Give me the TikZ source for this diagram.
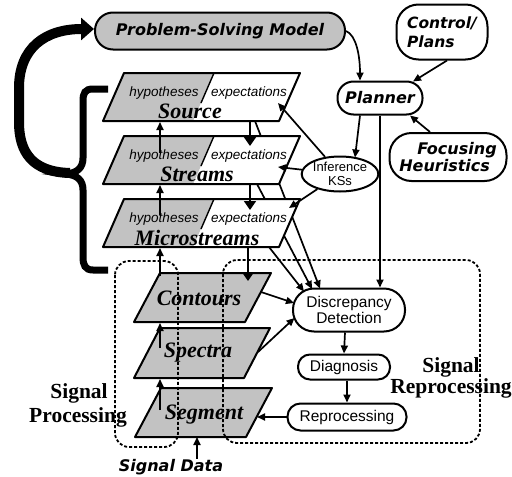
\documentclass[tikz,border=0pt]{standalone}
\usepackage{fontspec}
\setmainfont{Liberation Serif}
\newfontfamily\dvs{DejaVu Sans}[BoldItalicFont={DejaVu Sans Bold Oblique}]
\newfontfamily\lsans{Liberation Sans}
\usetikzlibrary{shapes.geometric,arrows.meta}
\colorlet{stip}{black!24}
\tikzset{
  shp/.style={draw, line width=2pt, fill=white, inner sep=0pt},
  lab/.style={font=\fontsize{16}{17}\selectfont\dvs\bfseries\itshape},
  sans/.style={font=\fontsize{15.5}{16}\selectfont\lsans},
  lvl/.style={font=\fontsize{22}{22}\selectfont\bfseries\itshape, inner sep=0pt, anchor=base},
  sub/.style={font=\fontsize{13.5}{14}\selectfont\lsans\itshape, inner sep=0pt, anchor=base},
  reg/.style={font=\fontsize{21.5}{22}\selectfont\bfseries, inner sep=0pt, anchor=base},
  conn/.style={line width=1.7pt, -{Triangle[length=8pt,width=7pt]}},
  bigdown/.style={line width=1.7pt, -{Triangle[length=9pt,width=12pt]}},
  plane/.style={line width=2pt, line join=round},
  region/.style={line width=1.8pt, dash pattern=on 3pt off 2pt, rounded corners=14pt},
}
\begin{document}
\begin{tikzpicture}[x=1pt,y=-1pt]
\useasboundingbox (0,0) rectangle (512,477);

% ---------- control nodes ----------
\node[shp, fill=stip, lab, minimum width=250pt, minimum height=37pt, rounded corners=18pt] (psm) at (220,31) {Problem-Solving Model};
\node[shp, lab, align=left, font=\fontsize{15.5}{19}\selectfont\dvs\bfseries\itshape, minimum width=91pt, minimum height=55pt, rounded corners=22pt] (cp) at (442,32) {Control/\\Plans};
\node[shp, lab, minimum width=85pt, minimum height=33pt, rounded corners=16pt] (planner) at (380,98) {Planner};
\node[shp, lab, align=left, minimum width=117pt, minimum height=48pt, rounded corners=22pt] (fh) at (448,157) {\hspace*{18pt}Focusing\\Heuristics};
\node[shp, ellipse, align=center, font=\fontsize{13}{14}\selectfont\lsans, minimum width=67pt, minimum height=35pt] (inf) at (340,174) {Inference\\KSs};
\node[shp, sans, align=center, minimum width=112pt, minimum height=43pt, rounded corners=21pt] (dd) at (349,310) {Discrepancy\\Detection};
\node[shp, sans, minimum width=92pt, minimum height=25pt, rounded corners=12pt] (diag) at (344,367) {Diagnosis};
\node[shp, sans, minimum width=119pt, minimum height=27pt, rounded corners=13pt] (rep) at (347,417) {Reprocessing};

% ---------- big curved arrow and brace ----------
\draw[line width=10pt, -{Triangle[length=13pt,width=22pt]}] (70,173) .. controls (32,172) and (19,152) .. (19,122) -- (19,88) .. controls (19,48) and (45,29) .. (94,29);
\draw[line width=7pt] (108,89) -- (93,89) .. controls (85,89) and (83,93) .. (83,101) -- (83,158) .. controls (83,168) and (77,173) .. (66,174) .. controls (77,175) and (83,180) .. (83,190) -- (83,257) .. controls (83,265) and (85,270) .. (93,270) -- (108,270);

% ---------- lines from blackboard levels to discrepancy detection (behind levels) ----------
\coordinate (srcBot) at (255,121);
\coordinate (strBot) at (257,184);
\coordinate (micBot) at (269,247);
\coordinate (ddA) at (320,288.5);
\coordinate (ddB) at (312,289);
\coordinate (ddC) at (304,291.5);
\draw[conn] (srcBot) -- (ddA);
\draw[conn] (strBot) -- (ddB);
\draw[conn] (micBot) -- (ddC);

% ---------- upper blackboard levels ----------
\foreach \T/\nm in {73/src,136/str,199/mic}{
  \fill[white] (124,\T) -- (300,\T) -- (279,\T+48) -- (103,\T+48) -- cycle;
  \fill[stip] (124,\T) -- (214,\T) -- (193,\T+48) -- (103,\T+48) -- cycle;
  \draw[plane] (124,\T) -- (300,\T) -- (279,\T+48) -- (103,\T+48) -- cycle;
  \draw[line width=1.4pt] (214,\T) -- (201,\T+30);
}
\node[sub] (srcH) at (164,96) {hypotheses};
\node[sub] (srcE) at (249,96) {expectations};
\node[lvl] (srcL) at (190,118) {Source};
\node[sub] (strH) at (164,159) {hypotheses};
\node[sub] (strE) at (249,159) {expectations};
\node[lvl] (strL) at (197,181) {Streams};
\node[sub] (micH) at (164,222) {hypotheses};
\node[sub] (micE) at (249,222) {expectations};
\node[lvl] (micL) at (197,245) {Microstreams};

% ---------- lower (signal) levels ----------
\draw[plane, fill=stip] (160,273) -- (271,273) -- (245,322) -- (134,322) -- cycle;
\draw[plane, fill=stip] (160,328) -- (270,328) -- (244,378) -- (134,378) -- cycle;
\draw[plane, fill=stip] (161,388) -- (272,388) -- (246,437) -- (135,437) -- cycle;
\node[lvl] (conL) at (199,305) {Contours};
\node[lvl] (speL) at (198,357) {Spectra};
\node[lvl] (segL) at (204,419) {Segment};

% ---------- dashed regions ----------
\draw[region] (115,261) rectangle (178,447);
\draw[region] (223,260) rectangle (480,443);

% ---------- arrows between levels ----------
\coordinate (upS1) at (160,153); \coordinate (upS2) at (160,122);
\coordinate (upM1) at (160,215); \coordinate (upM2) at (160,185);
\coordinate (upC1) at (160,276); \coordinate (upC2) at (160,248);
\coordinate (upP1) at (160,348); \coordinate (upP2) at (160,323);
\coordinate (upG1) at (160,410); \coordinate (upG2) at (160,379);
\draw[conn] (upS1) -- (upS2);
\draw[conn] (upM1) -- (upM2);
\draw[conn] (upC1) -- (upC2);
\draw[conn] (upP1) -- (upP2);
\draw[conn] (upG1) -- (upG2);
\coordinate (dnS1) at (250,121); \coordinate (dnS2) at (250,146);
\coordinate (dnT1) at (250,184); \coordinate (dnT2) at (250,210);
\coordinate (dnM1) at (248,247); \coordinate (dnM2) at (248,281);
\draw[bigdown] (dnS1) -- (dnS2);
\draw[bigdown] (dnT1) -- (dnT2);
\draw[bigdown] (dnM1) -- (dnM2);

% ---------- inference KS arrows ----------
\coordinate (infS) at (278,103);
\coordinate (infT) at (278,167);
\coordinate (infM) at (289,208);
\draw[conn] (inf) -- (infS);
\draw[conn] (inf) -- (infT);
\draw[conn] (inf) -- (infM);

% ---------- planner arrows ----------
\draw[conn] (psm.east) .. controls (356,35) and (360,55) .. ([xshift=-20pt]planner.north);
\draw[conn] ([xshift=5pt]cp.south) -- ([xshift=33pt,yshift=-1pt]planner.north);
\draw[conn] ([xshift=-18pt]fh.north) -- ([xshift=30pt]planner.south);
\draw[conn] ([xshift=-20pt]planner.south) -- ([xshift=15pt,yshift=-2pt]inf.north);
\draw[conn] (planner.south) -- (planner.south |- dd.north);

% ---------- signal arrows ----------
\coordinate (conR) at (261,292); \coordinate (ddCon) at (294,303);
\coordinate (speR) at (258,352); \coordinate (ddSpe) at (294.5,318);
\draw[conn] (conR) -- (ddCon);
\draw[conn] (speR) -- (ddSpe);
\draw[conn] ([xshift=-4pt]dd.south) -- (diag.north);
\draw[conn] ([xshift=3pt]diag.south) -- (rep.north);
\coordinate (segR) at (257,417);
\draw[conn] (rep.west) -- (segR);

% ---------- region labels and signal data ----------
\node[reg] (spl1) at (79,398) {Signal};
\node[reg] (spl2) at (78,422) {Processing};
\node[reg] (srl1) at (451,372) {Signal};
\node[reg] (srl2) at (451,393) {Reprocessing};
\node[lab, anchor=base, inner sep=0pt] (sd) at (171,471) {Signal Data};
\coordinate (segB) at (197,437);
\draw[conn] (segB |- sd.north) -- (segB);
\end{tikzpicture}
\end{document}
